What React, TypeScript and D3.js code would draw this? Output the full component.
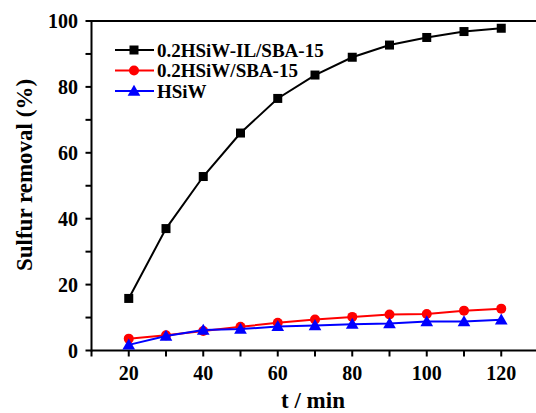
import React from 'react';
import * as d3 from 'd3';

const times = [20, 30, 40, 50, 60, 70, 80, 90, 100, 110, 120];
const ilSba = [15.8, 37.0, 52.8, 66.0, 76.5, 83.6, 89.0, 92.7, 95.0, 96.8, 97.8];
const hsiwSba = [3.6, 4.6, 5.9, 7.2, 8.4, 9.4, 10.2, 10.9, 11.1, 12.1, 12.7];
const hsiw = [1.7, 4.4, 6.2, 6.5, 7.3, 7.6, 8.0, 8.2, 8.8, 8.8, 9.3];
const xTicks = [10, 20, 30, 40, 50, 60, 70, 80, 90, 100, 110, 120];
const xLabels = [20, 40, 60, 80, 100, 120];
const yTicks = [0, 10, 20, 30, 40, 50, 60, 70, 80, 90, 100];
const yLabels = [0, 20, 40, 60, 80, 100];

const seriesList = [
    { name: '0.2HSiW-IL/SBA-15', values: ilSba, color: '#000000', marker: 'square' },
    { name: '0.2HSiW/SBA-15', values: hsiwSba, color: '#ff0000', marker: 'circle' },
    { name: 'HSiW', values: hsiw, color: '#0000ff', marker: 'triangle' },
];

const font = '"Liberation Serif", "Times New Roman", serif';

const Marker = ({ type, x, y, color }) => {
    if (type === 'square') {
        return <rect x={x - 4.5} y={y - 4.5} width={9} height={9} fill={color} />;
    }
    if (type === 'circle') {
        return <circle cx={x} cy={y} r={5} fill={color} />;
    }
    const tri = d3.symbol().type(d3.symbolTriangle).size(70)();
    return <path d={tri} transform={`translate(${x},${y + 1})`} fill={color} />;
};

const App = () => {
    const width = 536;
    const height = 413;
    const x = d3.scaleLinear().domain([10, 130]).range([91.5, 538.5]);
    const y = d3.scaleLinear().domain([0, 100]).range([350.5, 21]);

    const line = d3.line<number>()
        .x((d, i) => x(times[i]))
        .y(d => y(d));

    return (
        <svg width={width} height={height} style={{ position: 'absolute', left: 0, top: 0, background: '#fff' }}
            fontFamily={font} fontWeight="bold">
            {/* frame */}
            <line x1={x(10)} x2={width} y1={y(100)} y2={y(100)} stroke="#000" strokeWidth={2} />
            <line x1={x(10)} x2={width} y1={y(0)} y2={y(0)} stroke="#000" strokeWidth={2} />
            <line x1={x(10)} x2={x(10)} y1={y(100) - 1} y2={y(0) + 1} stroke="#000" strokeWidth={2} />

            {xTicks.map(t => (
                <line key={'xt' + t} x1={x(t)} x2={x(t)} y1={y(0)} y2={y(0) + 6} stroke="#000" strokeWidth={2} />
            ))}
            {xLabels.map(t => (
                <text key={'xl' + t} x={x(t)} y={380} textAnchor="middle" fontSize={20}>{t}</text>
            ))}
            {yTicks.map(t => (
                <line key={'yt' + t} x1={x(10) - 6} x2={x(10)} y1={y(t)} y2={y(t)} stroke="#000" strokeWidth={2} />
            ))}
            {yLabels.map(t => (
                <text key={'yl' + t} x={78} y={y(t)} dy="0.35em" textAnchor="end" fontSize={20}>{t}</text>
            ))}

            <text x={313} y={408} textAnchor="middle" fontSize={23}>t / min</text>
            <text transform="translate(32, 175) rotate(-90)" textAnchor="middle" fontSize={23}>
                Sulfur removal (%)
            </text>

            {seriesList.map(s => (
                <g key={s.name}>
                    <path d={line(s.values)} fill="none" stroke={s.color} strokeWidth={2} />
                    {s.values.map((v, i) => (
                        <Marker key={i} type={s.marker} x={x(times[i])} y={y(v)} color={s.color} />
                    ))}
                </g>
            ))}

            {seriesList.map((s, i) => {
                const ly = 50 + i * 20.5;
                return (
                    <g key={'lg' + s.name}>
                        <line x1={115} x2={154} y1={ly} y2={ly} stroke={s.color} strokeWidth={2} />
                        <Marker type={s.marker} x={134} y={ly} color={s.color} />
                        <text x={157} y={ly} dy="0.35em" fontSize={19}>{s.name}</text>
                    </g>
                );
            })}
        </svg>
    );
};

export default App;
